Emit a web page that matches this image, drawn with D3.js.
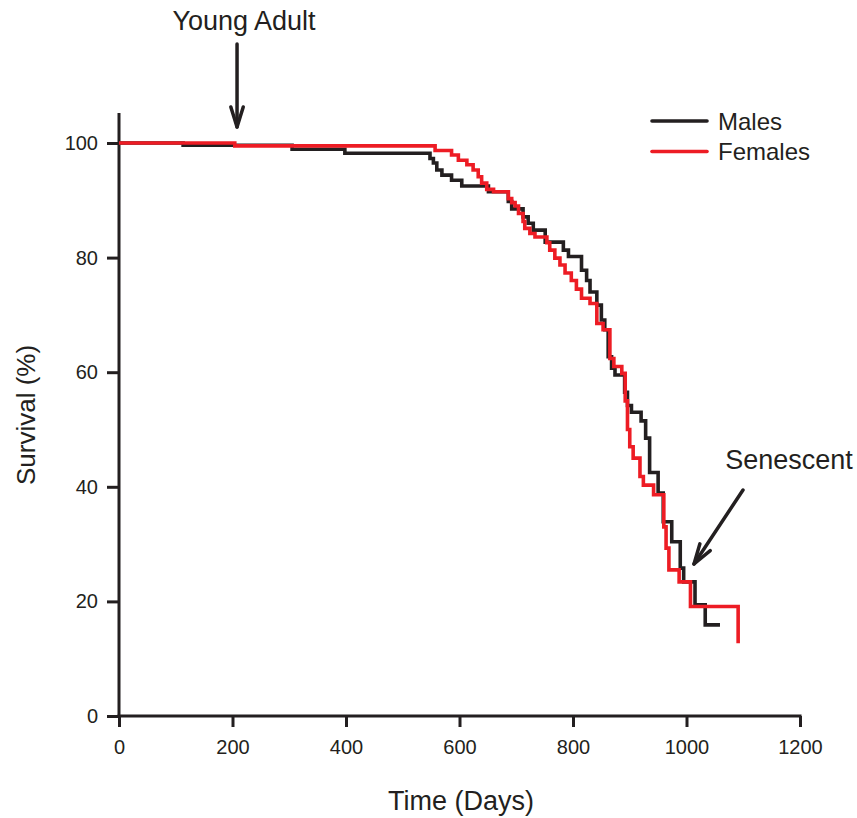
<!DOCTYPE html>
<html>
<head>
<meta charset="utf-8">
<script src="https://cdn.jsdelivr.net/npm/d3@7"></script>
<style>
  body { margin: 0; background: #fff; }
  text { font-family: "Liberation Sans", Arial, sans-serif; fill: #231f20; }
</style>
</head>
<body>
<div id="chart"></div>
<script>
var w = 857;
var h = 818;

// survival steps (day, % alive after that day)
var maleDays = [0, 113, 305, 398, 548, 554, 560, 569, 586, 604, 651, 686, 692, 712, 721, 730, 751, 783, 792, 815, 824, 830, 842, 850, 856, 862, 868, 874, 891, 896, 903, 920, 928, 935, 950, 959, 974, 989, 995, 1015, 1033, 1059];
var maleSurvival = [100, 99.6, 98.9, 98.2, 97.3, 96.5, 95.3, 94.4, 93.5, 92.5, 91.5, 89.8, 88.5, 87.1, 86.0, 84.8, 82.7, 81.3, 80.2, 77.8, 76.0, 74.0, 71.7, 69.1, 67.4, 62.7, 60.7, 59.5, 56.5, 54.2, 53.0, 51.5, 48.5, 42.5, 38.9, 33.9, 30.4, 25.8, 23.4, 19.4, 15.9, 15.9];

var femaleDays = [0, 204, 557, 586, 598, 613, 624, 633, 639, 648, 660, 686, 692, 698, 704, 712, 715, 724, 733, 754, 759, 768, 777, 786, 797, 806, 815, 830, 842, 853, 865, 872, 886, 892, 896, 900, 906, 918, 924, 942, 960, 964, 969, 987, 1007, 1091];
var femaleSurvival = [100, 99.5, 98.7, 97.9, 97.0, 96.2, 95.3, 94.1, 93.0, 91.9, 91.5, 90.3, 89.6, 89.0, 87.7, 86.3, 85.1, 84.2, 83.6, 82.6, 81.3, 79.9, 78.7, 77.3, 76.0, 74.5, 72.9, 72.0, 68.5, 67.4, 62.4, 61.0, 59.8, 55.0, 50.0, 47.0, 45.0, 41.8, 40.3, 38.6, 33.0, 29.3, 25.5, 23.4, 19.1, 12.7];

var xTicks = [0, 200, 400, 600, 800, 1000, 1200];
var yTicks = [0, 20, 40, 60, 80, 100];
var seriesNames = ['Males', 'Females'];
var seriesColors = ['#231f20', '#ed1c24'];

var svg = d3.select('#chart')
  .append('svg')
  .attr('width', w)
  .attr('height', h);

var x = d3.scaleLinear().domain([0, 1200]).range([119, 800]);
var y = d3.scaleLinear().domain([0, 100]).range([716, 143]);

// x axis
var xAxis = svg.append('g')
  .attr('transform', 'translate(0,' + y(0) + ')')
  .call(d3.axisBottom(x).tickValues(xTicks).tickSize(11).tickSizeOuter(0).tickPadding(13).tickFormat(d3.format('d')));
xAxis.select('.domain').remove();
xAxis.selectAll('line').attr('stroke', '#231f20').attr('stroke-width', 3);
xAxis.selectAll('text').attr('font-size', 20).style('font-family', '"Liberation Sans", Arial, sans-serif').attr('fill', '#231f20');

// y axis
var yAxis = svg.append('g')
  .attr('transform', 'translate(' + x(0) + ',0)')
  .call(d3.axisLeft(y).tickValues(yTicks).tickSize(12).tickSizeOuter(0).tickPadding(9));
yAxis.select('.domain').remove();
yAxis.selectAll('line').attr('stroke', '#231f20').attr('stroke-width', 3);
yAxis.selectAll('text').attr('font-size', 20).style('font-family', '"Liberation Sans", Arial, sans-serif').attr('fill', '#231f20');

// axis lines
svg.append('line')
  .attr('x1', x(0)).attr('x2', x(0))
  .attr('y1', y(0) + 1.5).attr('y2', y(100) - 30)
  .attr('stroke', '#231f20').attr('stroke-width', 3);
svg.append('line')
  .attr('x1', x(0) - 1.5).attr('x2', x(1200) + 1.5)
  .attr('y1', y(0)).attr('y2', y(0))
  .attr('stroke', '#231f20').attr('stroke-width', 3);

// step curves
var stepLine = d3.line()
  .x(function(d) { return x(d[0]); })
  .y(function(d) { return y(d[1]); })
  .curve(d3.curveStepAfter);

var series = [
  d3.zip(maleDays, maleSurvival),
  d3.zip(femaleDays, femaleSurvival)
];

for (var i = 0; i < series.length; i++) {
  svg.append('path')
    .datum(series[i])
    .attr('d', stepLine)
    .attr('fill', 'none')
    .attr('stroke', seriesColors[i])
    .attr('stroke-width', 3.6)
    .attr('stroke-linejoin', 'miter')
    .attr('stroke-linecap', 'butt');
}

// legend
for (var j = 0; j < seriesNames.length; j++) {
  var ly = 121 + j * 30.5;
  svg.append('line')
    .attr('x1', 652).attr('x2', 707)
    .attr('y1', ly).attr('y2', ly)
    .attr('stroke', seriesColors[j])
    .attr('stroke-width', 3.6)
    .attr('stroke-linecap', 'round');
  svg.append('text')
    .attr('x', 718).attr('y', ly + 8.5)
    .attr('font-size', 24)
    .text(seriesNames[j]);
}

// axis titles
svg.append('text')
  .attr('x', 461).attr('y', 810)
  .attr('text-anchor', 'middle')
  .attr('font-size', 27)
  .text('Time (Days)');

svg.append('text')
  .attr('transform', 'translate(35,415) rotate(-90)')
  .attr('text-anchor', 'middle')
  .attr('font-size', 26)
  .text('Survival (%)');

// annotation arrows
function arrow(x1, y1, x2, y2) {
  var ang = Math.atan2(y2 - y1, x2 - x1);
  var len = 21, spread = 0.3;
  var g = svg.append('g')
    .attr('stroke', '#231f20')
    .attr('stroke-width', 3.5)
    .attr('fill', 'none')
    .attr('stroke-linecap', 'round')
    .attr('stroke-linejoin', 'round');
  g.append('line')
    .attr('x1', x1).attr('y1', y1)
    .attr('x2', x2).attr('y2', y2);
  g.append('path')
    .attr('d', 'M' + (x2 - len * Math.cos(ang - spread)) + ',' + (y2 - len * Math.sin(ang - spread)) +
      'L' + x2 + ',' + y2 +
      'L' + (x2 - len * Math.cos(ang + spread)) + ',' + (y2 - len * Math.sin(ang + spread)));
}

svg.append('text')
  .attr('x', 244).attr('y', 30)
  .attr('text-anchor', 'middle')
  .attr('font-size', 27)
  .text('Young Adult');
arrow(x(208), 44, x(208), 127);

svg.append('text')
  .attr('x', 789).attr('y', 469)
  .attr('text-anchor', 'middle')
  .attr('font-size', 27)
  .text('Senescent');
arrow(743, 490, 694, 564);
</script>
</body>
</html>
